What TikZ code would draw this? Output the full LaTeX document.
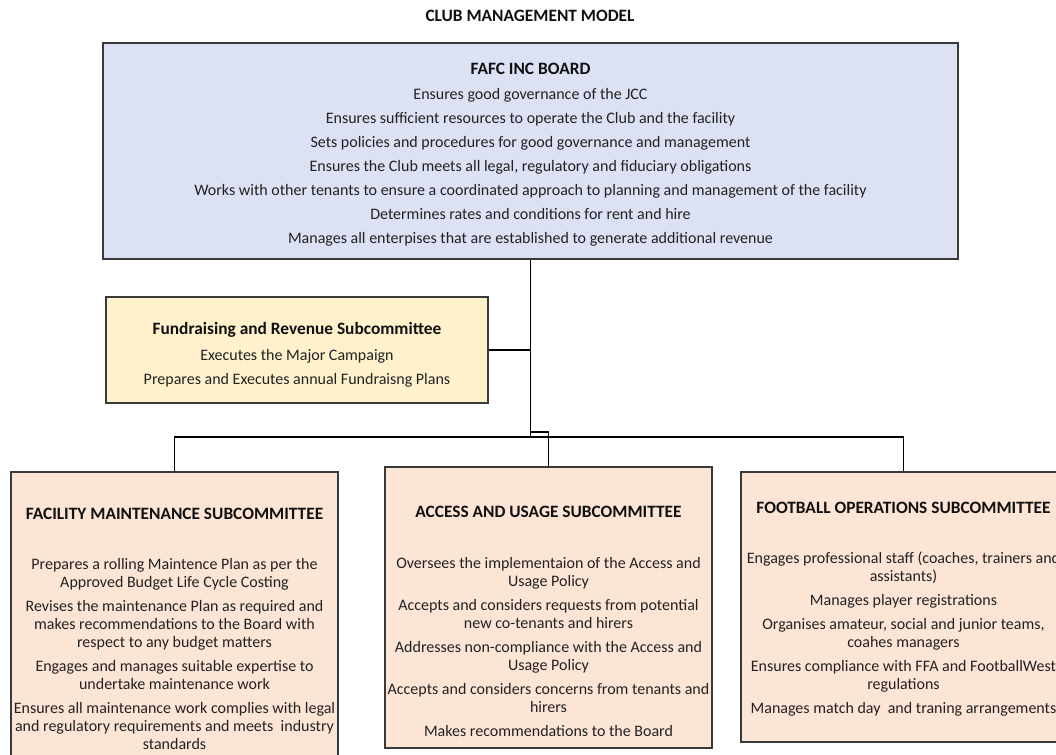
\documentclass[tikz,border=0pt]{standalone}
\usepackage{fontspec}
\setmainfont{Carlito}
\definecolor{boardfill}{HTML}{DCE1F4}
\definecolor{fundfill}{HTML}{FEF1CC}
\definecolor{subfill}{HTML}{FDE5D6}
\definecolor{edge}{HTML}{3A3A3A}
\definecolor{ink}{HTML}{222222}
\definecolor{headink}{HTML}{101010}
\begin{document}
\begin{tikzpicture}[x=0.75pt, y=-0.75pt,
  panel/.style={draw=edge, line width=1.1pt, inner sep=0pt},
  body/.style={text=ink, align=center, inner sep=0pt, anchor=north,
    font=\fontsize{12pt}{13.5pt}\selectfont},
  head/.style={text=headink, inner sep=0pt,
    font=\fontsize{13pt}{14pt}\selectfont\bfseries},
  link/.style={draw=black, line width=1pt}]
\useasboundingbox (0,0) rectangle (1056,754);
\clip (0,0) rectangle (1056,754);

% title
\node[head] (title) at (530,16) {CLUB MANAGEMENT MODEL};

% board
\node[panel, fill=boardfill, minimum width=855*0.75pt, minimum height=216*0.75pt]
  (board) at (530.5,151) {};
\node[head] (boardhead) at (530.5,69) {FAFC INC BOARD};
\node[body] (boardtext) at (530.5,88) {%
  Ensures good governance of the JCC\\[4.5pt]
  Ensures sufficient resources to operate the Club and the facility\\[4.5pt]
  Sets policies and procedures for good governance and management\\[4.5pt]
  Ensures the Club meets all legal, regulatory and fiduciary obligations\\[4.5pt]
  Works with other tenants to ensure a coordinated approach to planning and management of the facility\\[4.5pt]
  Determines rates and conditions for rent and hire\\[4.5pt]
  Manages all enterpises that are established to generate additional revenue};

% fundraising subcommittee
\node[panel, fill=fundfill, minimum width=382*0.75pt, minimum height=106*0.75pt]
  (fund) at (297,350) {};
\node[head] (fundhead) at (297,330) {Fundraising and Revenue Subcommittee};
\node[body] (fundtext) at (297,349) {%
  Executes the Major Campaign\\[4.5pt]
  Prepares and Executes annual Fundraisng Plans};

% facility maintenance subcommittee
\node[panel, fill=subfill, minimum width=327*0.75pt, minimum height=300*0.75pt]
  (maint) at (174.5,622) {};
\node[head] (mainthead) at (174.5,514) {FACILITY MAINTENANCE SUBCOMMITTEE};
\node[body] (mainttext) at (174.5,558) {%
  Prepares a rolling Maintence Plan as per the\\
  Approved Budget Life Cycle Costing\\[4.5pt]
  Revises the maintenance Plan as required and\\
  makes recommendations to the Board with\\
  respect to any budget matters\\[4.5pt]
  Engages and manages suitable expertise to\\
  undertake maintenance work\\[4.5pt]
  Ensures all maintenance work complies with legal\\
  and regulatory requirements and meets\ \ industry\\
  standards};

% access and usage subcommittee
\node[panel, fill=subfill, minimum width=327*0.75pt, minimum height=281*0.75pt]
  (access) at (548.5,607.5) {};
\node[head] (accesshead) at (548.5,512) {ACCESS AND USAGE SUBCOMMITTEE};
\node[body] (accesstext) at (548.5,557) {%
  Oversees the implementaion of the Access and\\
  Usage Policy\\[4.5pt]
  Accepts and considers requests from potential\\
  new co-tenants and hirers\\[4.5pt]
  Addresses non-compliance with the Access and\\
  Usage Policy\\[4.5pt]
  Accepts and considers concerns from tenants and\\
  hirers\\[4.5pt]
  Makes recommendations to the Board};

% football operations subcommittee
\node[panel, fill=subfill, minimum width=325*0.75pt, minimum height=270*0.75pt]
  (football) at (903.5,607) {};
\node[head] (footballhead) at (903.5,508) {FOOTBALL OPERATIONS SUBCOMMITTEE};
\node[body] (footballtext) at (903.5,552) {%
  Engages professional staff (coaches, trainers and\\
  assistants)\\[4.5pt]
  Manages player registrations\\[4.5pt]
  Organises amateur, social and junior teams,\\
  coahes managers\\[4.5pt]
  Ensures compliance with FFA and FootballWest\\
  regulations\\[4.5pt]
  Manages match day\ \ and traning arrangements};

% connectors
\coordinate (bus) at (531,437);
\coordinate (jog) at (531,432);
\draw[link] (board.south) -- (board.south |- bus);
\draw[link] (fund.east) -- (fund.east -| board.south);
\draw[link] (maint.north) -- (maint.north |- bus) -- (football.north |- bus) -- (football.north);
\draw[link] (board.south |- jog) -| (access.north);
\end{tikzpicture}
\end{document}
